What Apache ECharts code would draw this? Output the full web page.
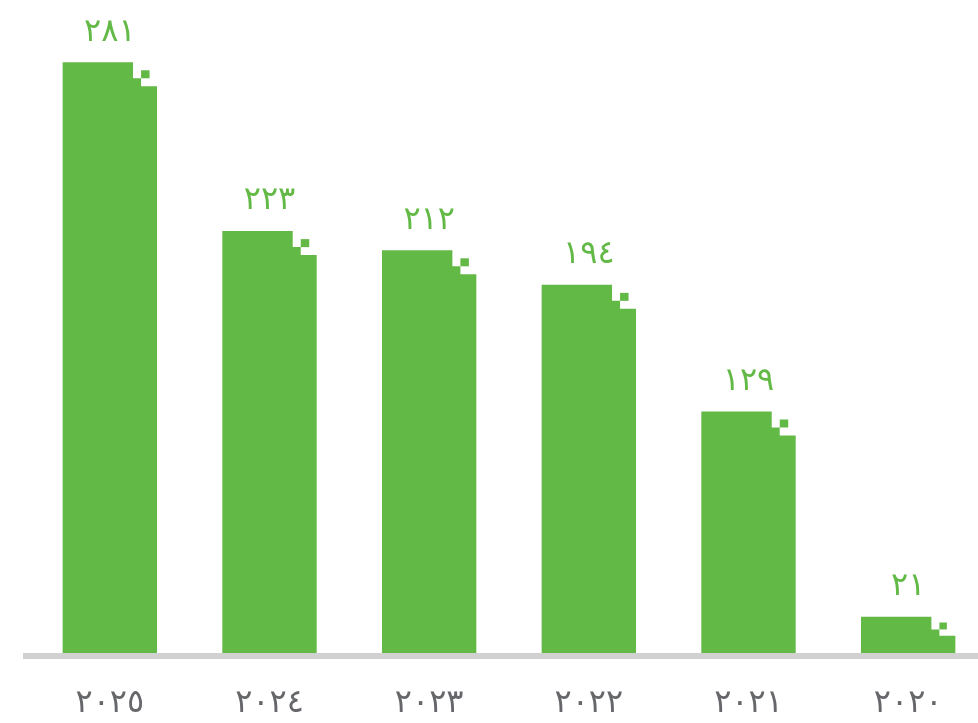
<!DOCTYPE html>
<html>
<head>
<meta charset="utf-8">
<script src="https://cdn.jsdelivr.net/npm/echarts@6/dist/echarts.min.js"></script>
<style>
html,body{margin:0;padding:0;background:#fff;}
#main{width:978px;height:723px;}
</style>
</head>
<body>
<div id="main"></div>
<script>
// Categories (years, Arabic-Indic digits), left to right
var categories = ['٢٠٢٥', '٢٠٢٤', '٢٠٢٣', '٢٠٢٢', '٢٠٢١', '٢٠٢٠'];
// Values as printed above the bars
var valueLabels = ['٢٨١', '٢٢٣', '٢١٢', '١٩٤', '١٢٩', '٢١'];
var values = [281, 223, 212, 194, 129, 21];
// Bar heights as drawn in the picture (the first bar is drawn taller than its label)
var barHeights = [311, 223, 213, 195, 129, 22];

var GREEN = '#63b946';
var chart = echarts.init(document.getElementById('main'));

var seriesData = barHeights.map(function (h, i) {
  return [i, h, valueLabels[i], values[i]];
});

function renderBar(params, api) {
  var i = api.value(0);
  var top = api.coord([i, api.value(1)]);
  var base = api.coord([i, 0]);
  var band = api.size([1, 0])[0];
  var w = band * 0.591;
  var L = top[0] - w / 2;
  var R = top[0] + w / 2;
  var T = top[1];
  var B = base[1];
  var h = B - T;
  var s1 = Math.min(16, h * 0.3);
  var s2 = Math.min(24, h * 0.45);
  var sq = Math.min(8, s1 * 0.55);
  var x1 = L + w * 0.746;
  var x2 = L + w * 0.831;
  return {
    type: 'group',
    children: [
      {
        type: 'polygon',
        shape: {
          points: [[L, B], [L, T], [x1, T], [x1, T + s1], [x2, T + s1], [x2, T + s2], [R, T + s2], [R, B]]
        },
        style: { fill: GREEN }
      },
      {
        type: 'rect',
        shape: { x: x2, y: T + s1 - sq, width: sq + 0.5, height: sq },
        style: { fill: GREEN }
      },
      {
        type: 'text',
        x: top[0],
        y: T - 14,
        style: {
          text: api.value(2),
          fill: GREEN,
          font: '32px "DejaVu Sans"',
          align: 'center',
          verticalAlign: 'bottom'
        }
      }
    ]
  };
}

chart.setOption({
  animation: false,
  grid: { left: 30, width: 958, top: 45, bottom: 64, containLabel: false, outerBoundsMode: 'none' },
  xAxis: {
    type: 'category',
    data: categories,
    axisLine: { show: false },
    axisTick: { show: false },
    axisLabel: {
      color: '#66676b',
      fontSize: 32,
      fontFamily: 'DejaVu Sans',
      margin: 29
    }
  },
  yAxis: {
    type: 'value',
    min: 0,
    max: 320,
    show: false,
    splitLine: { show: false }
  },
  series: [{
    type: 'custom',
    renderItem: renderBar,
    encode: { x: 0, y: 1 },
    data: seriesData,
    z: 2
  }]
});

var y0 = chart.convertToPixel({ yAxisIndex: 0 }, 0);
chart.setOption({
  graphic: [{
    type: 'rect',
    z: 100,
    shape: { x: 23, y: y0 - 6, width: 978 - 23, height: 6 },
    style: { fill: '#d1d1d1' }
  }]
});
</script>
</body>
</html>
